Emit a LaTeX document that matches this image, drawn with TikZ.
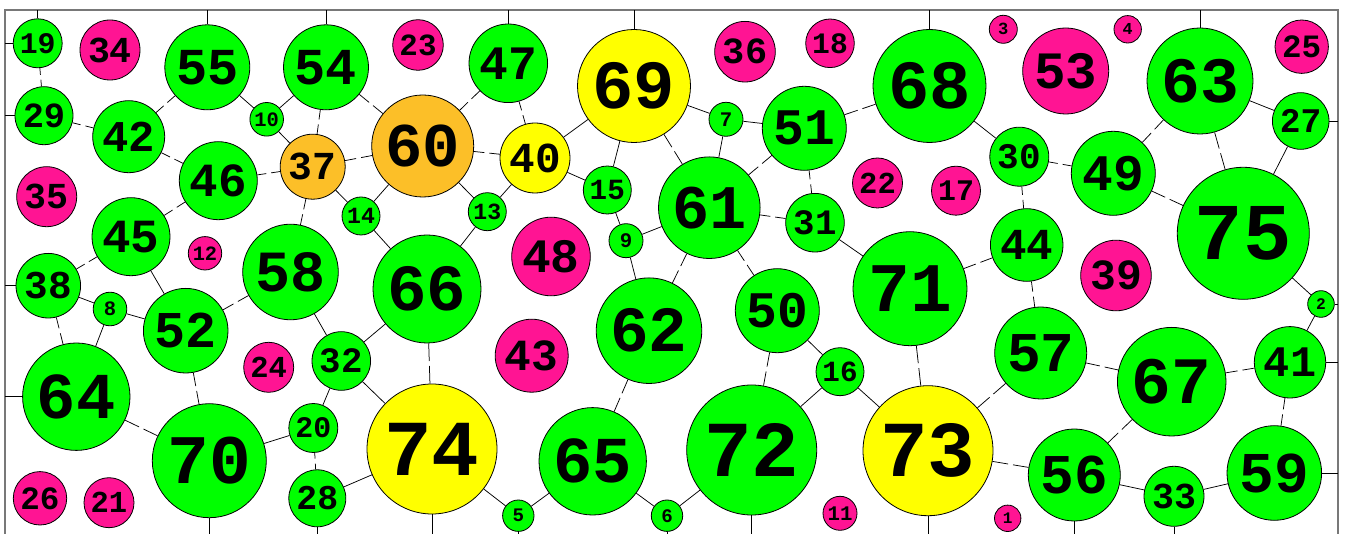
\documentclass[tikz,border=0pt]{standalone}
\usepackage{fontspec}
\newfontfamily\numfont{Liberation Mono}
\definecolor{cgreen}{RGB}{0,255,0}
\definecolor{cpink}{RGB}{255,20,147}
\definecolor{cyellow}{RGB}{255,255,0}
\definecolor{corange}{RGB}{252,191,40}
\definecolor{cframe}{RGB}{120,120,120}
\tikzset{
  ball/.style={circle, draw=black, line width=0.8pt, inner sep=0pt, font=\numfont\bfseries},
  link/.style={draw=black, line width=0.75pt},
  gaplink/.style={link, shorten >=2.5pt},
  tick/.style={draw=black, line width=0.75pt},
  frame/.style={draw=cframe, line width=1.3pt}
}
\newcommand\ball[5]{%
  \pgfmathsetmacro\fsz{1.22*#4}%
  \node[ball, fill=#5, minimum size=2*#4] (n#1) at (#2,#3) {\fontsize{\fsz pt}{\fsz pt}\selectfont #1};}
\newcommand\gapedge[2]{%
  \path (n#1) -- coordinate[pos=.5] (m#1x#2) (n#2);
  \draw[gaplink] (n#1) -- (m#1x#2);
  \draw[gaplink] (n#2) -- (m#1x#2);}
\newcommand\solidedge[2]{\draw[link] (n#1) -- (n#2);}
\begin{document}
\begin{tikzpicture}[x=1pt,y=-1pt]
\useasboundingbox (0,0) rectangle (1345,534);
\clip (0,0) rectangle (1345,534);
\coordinate (ftop) at (5,10);
\coordinate (fleft) at (5,10);
\coordinate (fright) at (1338,10);
\coordinate (fbot) at (5,545);
\draw[frame] (5,10) rectangle (1338,545);
% balls
\ball{19}{37.7}{43.3}{24.5}{cgreen}
\ball{34}{110}{50}{30}{cpink}
\ball{55}{207.3}{67.3}{42.5}{cgreen}
\ball{54}{326}{67.3}{42.5}{cgreen}
\ball{23}{418}{45}{25.3}{cpink}
\ball{29}{44}{115.7}{29}{cgreen}
\ball{42}{128.7}{136.7}{36}{cgreen}
\ball{10}{266.7}{119.3}{16.8}{cgreen}
\ball{60}{422.7}{146}{51}{corange}
\ball{46}{218.3}{180.7}{39}{cgreen}
\ball{37}{312.7}{166.7}{32.5}{corange}
\ball{14}{361}{216}{19}{cgreen}
\ball{35}{46.7}{196.7}{30}{cpink}
\ball{45}{131}{236.7}{39}{cgreen}
\ball{12}{205}{253.3}{16.7}{cpink}
\ball{58}{290.5}{272}{47.8}{cgreen}
\ball{38}{48.3}{285.7}{32.3}{cgreen}
\ball{8}{110}{309}{16.8}{cgreen}
\ball{52}{185.7}{330.7}{42.3}{cgreen}
\ball{66}{427}{289}{54}{cgreen}
\ball{64}{76.3}{396.7}{53.7}{cgreen}
\ball{24}{268.7}{367.3}{25}{cpink}
\ball{32}{341.3}{361}{29.3}{cgreen}
\ball{70}{209.3}{460.7}{57}{cgreen}
\ball{20}{313.3}{428}{24.5}{cgreen}
\ball{74}{432}{449}{65}{cyellow}
\ball{26}{40}{498.3}{26.7}{cpink}
\ball{21}{109}{502.7}{25}{cpink}
\ball{28}{317.3}{498.3}{28.5}{cgreen}
\ball{47}{508.3}{63.3}{39.3}{cgreen}
\ball{69}{634}{86}{56.5}{cyellow}
\ball{36}{745}{51.7}{30.3}{cpink}
\ball{18}{830}{43.3}{24.3}{cpink}
\ball{40}{535}{158}{35}{cyellow}
\ball{7}{726}{119.3}{17}{cgreen}
\ball{51}{804.3}{128.3}{42}{cgreen}
\ball{15}{607.3}{190}{24}{cgreen}
\ball{13}{487.3}{211.7}{19}{cgreen}
\ball{61}{709.3}{207.7}{50.8}{cgreen}
\ball{31}{815}{222.7}{29.3}{cgreen}
\ball{9}{626}{240.7}{17}{cgreen}
\ball{48}{551}{256.5}{39.3}{cpink}
\ball{22}{877.5}{183}{25}{cpink}
\ball{62}{649}{330.7}{52.8}{cgreen}
\ball{50}{777.3}{310.7}{42}{cgreen}
\ball{43}{531.7}{355.7}{36.5}{cpink}
\ball{16}{840}{371.7}{24}{cgreen}
\ball{65}{592.7}{461.3}{53.7}{cgreen}
\ball{72}{751.7}{450}{65}{cgreen}
\ball{5}{518.3}{515.7}{15.7}{cgreen}
\ball{6}{667}{515.7}{15.7}{cgreen}
\ball{11}{840}{513.3}{17}{cpink}
\ball{68}{929.5}{86}{56.5}{cgreen}
\ball{3}{1003.3}{29.3}{14}{cpink}
\ball{4}{1127.7}{29.3}{13.7}{cpink}
\ball{53}{1065.7}{71}{43}{cpink}
\ball{63}{1200}{81}{53}{cgreen}
\ball{25}{1301.7}{46.7}{26.7}{cpink}
\ball{27}{1300.7}{121}{28.3}{cgreen}
\ball{30}{1019.3}{156.7}{29.5}{cgreen}
\ball{49}{1113.3}{173.3}{42}{cgreen}
\ball{17}{956}{190.7}{24.5}{cpink}
\ball{44}{1026.7}{245}{36.3}{cgreen}
\ball{75}{1243.3}{233.3}{66}{cgreen}
\ball{39}{1116}{275.5}{35.3}{cpink}
\ball{71}{910}{288.7}{57}{cgreen}
\ball{2}{1321}{304}{13.3}{cgreen}
\ball{57}{1040.7}{353}{46}{cgreen}
\ball{67}{1171.7}{381.7}{54.3}{cgreen}
\ball{41}{1290}{362.3}{35.7}{cgreen}
\ball{73}{928}{450.7}{65}{cyellow}
\ball{56}{1074.3}{475}{46}{cgreen}
\ball{33}{1174}{496.3}{30}{cgreen}
\ball{59}{1274.3}{473}{47.3}{cgreen}
\ball{1}{1007.7}{518.3}{13.2}{cpink}
% frame ticks
\foreach \k in {19,55,54,47,69,68,63} {\draw[tick] (n\k.north) -- (n\k.north |- ftop);}
\foreach \k in {19,29,38,64} {\draw[tick] (n\k.west) -- (n\k.west -| fleft);}
\foreach \k in {27,2,41,59} {\draw[tick] (n\k.east) -- (n\k.east -| fright);}
\foreach \k in {70,28,74,5,6,72,73,56,33} {\draw[tick] (n\k.south) -- (n\k.south |- fbot);}
% edges with a gap
\gapedge{19}{29}
\gapedge{29}{42}
\gapedge{42}{55}
\gapedge{42}{46}
\gapedge{46}{37}
\gapedge{46}{45}
\gapedge{45}{38}
\gapedge{38}{64}
\gapedge{52}{58}
\gapedge{52}{70}
\gapedge{64}{70}
\gapedge{54}{37}
\gapedge{54}{60}
\gapedge{37}{60}
\gapedge{37}{58}
\gapedge{60}{47}
\gapedge{60}{40}
\gapedge{47}{40}
\gapedge{66}{74}
\gapedge{20}{28}
\gapedge{69}{61}
\gapedge{51}{68}
\gapedge{51}{61}
\gapedge{51}{31}
\gapedge{61}{31}
\gapedge{61}{62}
\gapedge{61}{50}
\gapedge{50}{72}
\gapedge{62}{65}
\gapedge{71}{73}
\gapedge{71}{44}
\gapedge{30}{49}
\gapedge{30}{44}
\gapedge{49}{63}
\gapedge{49}{75}
\gapedge{63}{75}
\gapedge{44}{57}
\gapedge{57}{73}
\gapedge{57}{67}
\gapedge{67}{41}
\gapedge{67}{56}
\gapedge{41}{59}
\gapedge{73}{56}
% solid edges
\solidedge{55}{10}
\solidedge{10}{54}
\solidedge{10}{37}
\solidedge{37}{14}
\solidedge{14}{60}
\solidedge{14}{66}
\solidedge{60}{13}
\solidedge{13}{40}
\solidedge{13}{66}
\solidedge{45}{52}
\solidedge{38}{8}
\solidedge{8}{52}
\solidedge{8}{64}
\solidedge{58}{32}
\solidedge{32}{66}
\solidedge{32}{74}
\solidedge{20}{32}
\solidedge{70}{20}
\solidedge{28}{74}
\solidedge{40}{69}
\solidedge{40}{15}
\solidedge{69}{15}
\solidedge{69}{7}
\solidedge{7}{51}
\solidedge{7}{61}
\solidedge{15}{9}
\solidedge{9}{61}
\solidedge{9}{62}
\solidedge{31}{71}
\solidedge{50}{16}
\solidedge{16}{72}
\solidedge{16}{73}
\solidedge{74}{5}
\solidedge{5}{65}
\solidedge{65}{6}
\solidedge{6}{72}
\solidedge{68}{30}
\solidedge{63}{27}
\solidedge{27}{75}
\solidedge{75}{2}
\solidedge{2}{41}
\solidedge{56}{33}
\solidedge{33}{59}
\end{tikzpicture}
\end{document}
